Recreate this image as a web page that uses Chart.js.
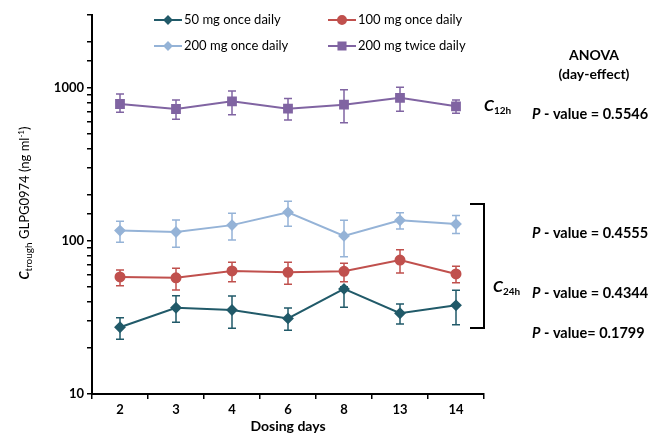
<!DOCTYPE html>
<html>
<head>
<meta charset="utf-8">
<script src="https://cdn.jsdelivr.net/npm/chart.js@4.4.1/dist/chart.umd.min.js"></script>
<style>
  body { margin: 0; background: #fff; }
  #wrap { width: 651px; height: 434px; }
</style>
</head>
<body>
<div id="wrap"><canvas id="ctroughChart" width="651" height="434"></canvas></div>
<script>
const days = ["2", "3", "4", "6", "8", "13", "14"];

// 50 mg once daily
const mg50 = [27.3, 36.6, 35.4, 31.2, 48.6, 33.7, 38.0];
const mg50Lo = [22.8, 29.4, 26.9, 26.1, 36.9, 28.7, 28.4];
const mg50Hi = [31.5, 43.9, 43.7, 36.5, 50.3, 38.7, 47.6];
// 100 mg once daily
const mg100 = [58.2, 57.5, 63.7, 62.4, 63.4, 75.1, 60.9];
const mg100Lo = [51.0, 47.8, 54.2, 52.1, 54.2, 61.8, 53.4];
const mg100Hi = [64.6, 66.3, 72.6, 72.6, 71.5, 87.7, 68.3];
// 200 mg once daily
const mg200 = [117, 114.5, 127, 154, 108, 136.5, 129];
const mg200Lo = [98, 91, 101.6, 125, 79, 120, 112];
const mg200Hi = [134.5, 137, 152, 182, 136.5, 153, 147];
// 200 mg twice daily
const mg200bid = [786, 729, 819, 732, 778, 862, 759];
const mg200bidLo = [694, 624, 669, 618, 593, 704, 684];
const mg200bidHi = [914, 835, 955, 855, 975, 1011, 835];

const yTickLabels = [10, 100, 1000];
const pValues = ["0.5546", "0.4555", "0.4344", "0.1799"];

const FONT = "Lato, 'Open Sans', sans-serif";

function makeSet(label, data, lo, hi, color, style, radius, legendRadius) {
  return {
    label: label,
    data: data,
    errLo: lo,
    errHi: hi,
    legendRadius: legendRadius,
    borderColor: color,
    backgroundColor: color,
    pointBackgroundColor: color,
    pointBorderColor: color,
    pointStyle: style,
    pointRadius: radius,
    borderWidth: 2,
    tension: 0,
    clip: false,
  };
}

// error bars go under the markers
const errorBars = {
  id: "errorBars",
  beforeDatasetsDraw(chart) {
    const ctx = chart.ctx;
    const x = chart.scales.x;
    const y = chart.scales.y;
    ctx.save();
    chart.data.datasets.forEach((ds) => {
      ctx.strokeStyle = ds.borderColor;
      ctx.lineWidth = 1.5;
      ds.data.forEach((v, i) => {
        const px = x.getPixelForValue(i);
        const top = y.getPixelForValue(ds.errHi[i]);
        const bot = y.getPixelForValue(ds.errLo[i]);
        ctx.beginPath();
        ctx.moveTo(px, top);
        ctx.lineTo(px, bot);
        ctx.moveTo(px - 4, top);
        ctx.lineTo(px + 4, top);
        ctx.moveTo(px - 4, bot);
        ctx.lineTo(px + 4, bot);
        ctx.stroke();
      });
    });
    ctx.restore();
  },
};

// draws pieces of text with different fonts / offsets in a row
function richText(ctx, parts, x, y, align) {
  let total = 0;
  parts.forEach((p) => {
    ctx.font = p.font;
    p.w = ctx.measureText(p.t).width;
    total += p.w;
  });
  let cx = align === "center" ? x - total / 2 : x;
  parts.forEach((p) => {
    ctx.font = p.font;
    ctx.fillText(p.t, cx, y + (p.dy || 0));
    cx += p.w;
  });
}

const extras = {
  id: "extras",
  afterDraw(chart) {
    const ctx = chart.ctx;
    const sets = chart.data.datasets;
    ctx.save();
    ctx.fillStyle = "#000";
    ctx.textBaseline = "middle";

    // legend, two columns
    const legendPos = [
      [154, 20], [328, 20],
      [154, 46], [328, 46],
    ];
    sets.forEach((ds, i) => {
      const [lx, ly] = legendPos[i];
      ctx.strokeStyle = ds.borderColor;
      ctx.lineWidth = 2;
      ctx.beginPath();
      ctx.moveTo(lx, ly);
      ctx.lineTo(lx + 28, ly);
      ctx.stroke();
      ctx.fillStyle = ds.borderColor;
      Chart.helpers.drawPoint(ctx, {
        pointStyle: ds.pointStyle,
        radius: ds.legendRadius,
        borderWidth: 1,
      }, lx + 14, ly);
      ctx.fill();
      ctx.fillStyle = "#000";
      ctx.font = "13px " + FONT;
      ctx.textAlign = "left";
      ctx.fillText(ds.label, lx + 30, ly);
    });

    // y axis title
    ctx.save();
    ctx.translate(25, 203);
    ctx.rotate(-Math.PI / 2);
    ctx.textAlign = "left";
    richText(ctx, [
      { t: "C", font: "italic bold 13px " + FONT },
      { t: "trough", font: "10px " + FONT, dy: 4 },
      { t: " GLPG0974 (ng ml", font: "13px " + FONT },
      { t: "-1", font: "8px " + FONT, dy: -4 },
      { t: ")", font: "13px " + FONT },
    ], 0, 0, "center");
    ctx.restore();

    // ANOVA block
    ctx.textAlign = "center";
    ctx.font = "bold 14px " + FONT;
    ctx.fillText("ANOVA", 594, 55);
    ctx.fillText("(day-effect)", 594, 74);

    ctx.textAlign = "left";
    const pRows = [114, 233, 293, 333];
    pRows.forEach((py, i) => {
      const eq = i === 3 ? "= " : " = ";
      richText(ctx, [
        { t: "P", font: "italic bold 14.5px " + FONT },
        { t: " - value" + eq + pValues[i], font: "bold 14.5px " + FONT },
      ], 532, py, "left");
    });

    // C12h / C24h labels
    richText(ctx, [
      { t: "C", font: "italic bold 16px " + FONT },
      { t: "12h", font: "bold 10px " + FONT, dy: 5 },
    ], 484, 106, "left");
    richText(ctx, [
      { t: "C", font: "italic bold 16px " + FONT },
      { t: "24h", font: "bold 10px " + FONT, dy: 5 },
    ], 493, 287, "left");

    // bracket around the 24h series
    ctx.strokeStyle = "#000";
    ctx.lineWidth = 2;
    ctx.beginPath();
    ctx.moveTo(470, 204);
    ctx.lineTo(484, 204);
    ctx.lineTo(484, 328);
    ctx.lineTo(470, 328);
    ctx.stroke();

    // x axis title
    ctx.textAlign = "center";
    ctx.font = "bold 14px " + FONT;
    ctx.fillText("Dosing days", 288, 426);
    ctx.restore();
  },
};

const chart = new Chart(document.getElementById("ctroughChart"), {
  type: "line",
  data: {
    labels: days,
    datasets: [
      makeSet("50 mg once daily", mg50, mg50Lo, mg50Hi, "#215A69", "rectRot", 4.5, 3.5),
      makeSet("100 mg once daily", mg100, mg100Lo, mg100Hi, "#C0504D", "circle", 4.5, 4),
      makeSet("200 mg once daily", mg200, mg200Lo, mg200Hi, "#95B3D7", "rectRot", 4.5, 3.5),
      makeSet("200 mg twice daily", mg200bid, mg200bidLo, mg200bidHi, "#8064A2", "rect", 5.5, 5),
    ],
  },
  options: {
    responsive: false,
    animation: false,
    layout: { padding: { left: 0, right: 167, top: 15, bottom: 0 } },
    plugins: {
      legend: { display: false },
      tooltip: { enabled: false },
    },
    scales: {
      x: {
        type: "category",
        offset: true,
        afterFit: (scale) => { scale.height = 40; },
        border: { color: "#000", width: 2 },
        grid: { offset: true, drawOnChartArea: false, color: "#000", lineWidth: 1.5, tickLength: 5 },
        ticks: { color: "#000", font: { family: FONT, size: 13, weight: "bold" }, padding: 3 },
      },
      y: {
        type: "logarithmic",
        min: 10,
        max: 3000,
        afterFit: (scale) => { scale.width = 92; },
        border: { color: "#000", width: 2 },
        grid: { drawOnChartArea: false, color: "#000", lineWidth: 1.5, tickLength: 5 },
        ticks: {
          autoSkip: false,
          color: "#000",
          padding: 3,
          font: { family: FONT, size: 13, weight: "bold" },
          callback: (v) => (yTickLabels.includes(v) ? String(v) : ""),
        },
      },
    },
  },
  plugins: [errorBars, extras],
});
</script>
</body>
</html>
